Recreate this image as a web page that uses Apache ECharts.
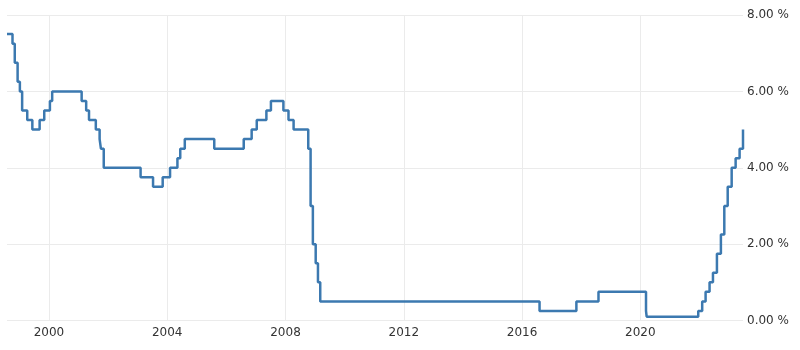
<!DOCTYPE html>
<html>
<head>
<meta charset="utf-8">
<script src="https://cdn.jsdelivr.net/npm/echarts@6/dist/echarts.min.js"></script>
<style>
  html, body { margin: 0; padding: 0; background: #ffffff; }
  #chart { width: 800px; height: 350px; }
</style>
</head>
<body>
<div id="chart"></div>
<script>
// Rate change dates and the level in force from that date
const changeDates = [
  '1998-08-01','1998-10-08','1998-11-05','1998-12-10','1999-01-07','1999-02-04','1999-04-08','1999-06-10',
  '1999-09-08','1999-11-04','2000-01-13','2000-02-10','2001-02-08','2001-04-05','2001-05-10','2001-08-02',
  '2001-09-18','2001-10-04','2001-11-08','2003-02-06','2003-07-10','2003-11-06','2004-02-05','2004-05-06',
  '2004-06-10','2004-08-05','2005-08-04','2006-08-03','2006-11-09','2007-01-11','2007-05-10','2007-07-05',
  '2007-12-06','2008-02-07','2008-04-10','2008-10-08','2008-11-06','2008-12-04','2009-01-08','2009-02-05',
  '2009-03-05','2016-08-04','2017-11-02','2018-08-02','2020-03-11','2020-03-19','2021-12-16','2022-02-03',
  '2022-03-17','2022-05-05','2022-06-16','2022-08-04','2022-09-22','2022-11-03','2022-12-15','2023-02-02',
  '2023-03-23','2023-05-11','2023-06-22'
];
const rateValues = [
  7.5, 7.25, 6.75, 6.25, 6.0, 5.5, 5.25, 5.0,
  5.25, 5.5, 5.75, 6.0, 5.75, 5.5, 5.25, 5.0,
  4.75, 4.5, 4.0, 3.75, 3.5, 3.75, 4.0, 4.25,
  4.5, 4.75, 4.5, 4.75, 5.0, 5.25, 5.5, 5.75,
  5.5, 5.25, 5.0, 4.5, 3.0, 2.0, 1.5, 1.0,
  0.5, 0.25, 0.5, 0.75, 0.25, 0.1, 0.25, 0.5,
  0.75, 1.0, 1.25, 1.75, 2.25, 3.0, 3.5, 4.0,
  4.25, 4.5, 5.0
];
const xTickYears = [2000, 2004, 2008, 2012, 2016, 2020];
const yTickValues = [0, 2, 4, 6, 8];

const toTime = s => new Date(s + 'T00:00:00Z').getTime();
const seriesData = changeDates.map((d, i) => [toTime(d), rateValues[i]]);
const xTickTimes = xTickYears.map(y => Date.UTC(y, 0, 1));

const chart = echarts.init(document.getElementById('chart'), null, { renderer: 'canvas' });
const labelFont = { fontFamily: 'DejaVu Sans', fontSize: 12, color: '#333333' };

chart.setOption({
  animation: false,
  backgroundColor: '#ffffff',
  grid: { left: 7, right: 57, top: 15, bottom: 29.5, containLabel: false },
  xAxis: {
    type: 'value',
    min: toTime(changeDates[0]),
    max: toTime(changeDates[changeDates.length - 1]),
    axisLine: { show: false },
    axisTick: { show: false, customValues: xTickTimes },
    axisLabel: Object.assign({
      customValues: xTickTimes,
      margin: 6,
      showMinLabel: true,
      showMaxLabel: true,
      formatter: v => String(new Date(v).getUTCFullYear())
    }, labelFont),
    splitLine: { show: true, lineStyle: { color: '#ebebeb', width: 1 } }
  },
  yAxis: {
    type: 'value',
    position: 'right',
    min: yTickValues[0],
    max: yTickValues[yTickValues.length - 1],
    interval: 2,
    axisLine: { show: false },
    axisTick: { show: false },
    axisLabel: Object.assign({
      margin: 4,
      formatter: v => v.toFixed(2) + ' %'
    }, labelFont),
    splitLine: { show: true, lineStyle: { color: '#ebebeb', width: 1 } }
  },
  series: [{
    type: 'line',
    step: 'end',
    data: seriesData,
    showSymbol: false,
    lineStyle: { color: '#3c79b0', width: 2.5 },
    itemStyle: { color: '#3c79b0' }
  }]
});
</script>
</body>
</html>
